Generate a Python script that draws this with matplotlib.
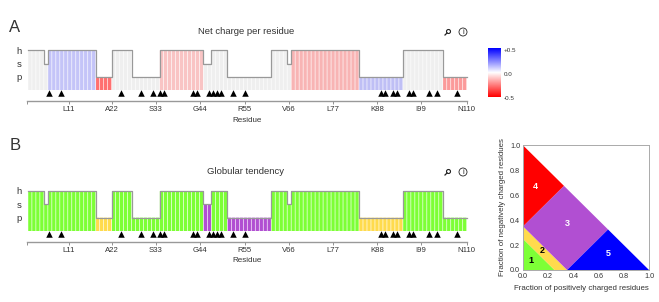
import matplotlib
matplotlib.use('Agg')
import matplotlib.pyplot as plt
import numpy as np
from matplotlib.colors import LinearSegmentedColormap
from matplotlib.patches import Circle, Polygon

plt.rcParams['font.family'] = ['Liberation Sans', 'DejaVu Sans']

W, H = 659, 302

# secondary structure per run: level 3=h, 2=s, 1=p
run_len = [4, 1, 12, 4, 5, 7, 11, 2, 4, 11, 4, 1, 17, 11, 10, 6]
run_lvl = [3, 2, 3, 1, 3, 1, 3, 2, 3, 1, 3, 2, 3, 1, 3, 1]
charge_cols = ['#efefef', '#efefef', '#c4c4f8', '#ff7070', '#efefef', '#efefef',
               '#f9c4c4', '#efefef', '#efefef', '#efefef', '#efefef', '#efefef',
               '#f8b4b4', '#bfbff5', '#efefef', '#fb9a9a']
glob_cols = ['#7dff36', '#7dff36', '#7dff36', '#ffdb4d', '#7dff36', '#7dff36',
             '#7dff36', '#b14fd2', '#7dff36', '#b14fd2', '#7dff36', '#7dff36',
             '#7dff36', '#ffdb4d', '#7dff36', '#7dff36']

tri_pos = [5.3, 8.3, 23.3, 28.3, 31.3, 33.2, 34.2, 41.3, 42.3, 45.3, 46.3, 47.3,
           48.3, 51.4, 54.4, 88.5, 89.5, 91.5, 92.5, 95.5, 96.5, 100.5, 102.5, 107.6]

tick_pos = [10.2, 21.1, 32.1, 43.2, 54.3, 65.4, 76.4, 87.5, 98.5, 110]
tick_lab = ['L11', 'A22', 'S33', 'G44', 'R55', 'V66', 'L77', 'K88', 'I99', 'N110']

region_1 = [(0, 0), (0.25, 0), (0, 0.25)]
region_2 = [(0, 0.25), (0.25, 0), (0.35, 0), (0, 0.35)]
region_3 = [(0, 0.35), (0.35, 0), (0.675, 0.325), (0.325, 0.675)]
region_4 = [(0, 0.35), (0.325, 0.675), (0, 1)]
region_5 = [(0.35, 0), (1, 0), (0.675, 0.325)]

TXT = '#333333'
GREY = '#999999'

fig = plt.figure(figsize=(W / 100, H / 100), dpi=100)


def px_axes(x0, y0, x1, y1):
    return fig.add_axes([x0 / W, 1 - y1 / H, (x1 - x0) / W, (y1 - y0) / H])


def ftext(x, y, s, **kw):
    kw.setdefault('color', TXT)
    kw.setdefault('ha', 'center')
    kw.setdefault('va', 'center')
    fig.text(x / W, 1 - y / H, s, **kw)


def track(top, bottom, cols, title, letter, letter_y, title_y, title_x):
    ax = px_axes(26.7, top, 466.7, bottom)
    levels = np.repeat(run_lvl, run_len)
    colors = np.repeat(cols, run_len)
    xs = np.arange(len(levels)) + 0.5
    bars = ax.bar(xs, levels, width=0.84, color=colors, linewidth=0)
    for b in bars:
        b.set_snap(False)
    ax.step(np.r_[0, np.cumsum(run_len)], np.r_[run_lvl, run_lvl[-1]], where='post',
            color=GREY, lw=0.9, clip_on=False)
    ax.scatter(tri_pos, [-0.225] * len(tri_pos), marker='^', s=22, color='black',
               linewidths=0, clip_on=False, zorder=5)
    ax.set_xlim(0, 110)
    ax.set_ylim(0, 3)
    for s in ['top', 'left', 'right']:
        ax.spines[s].set_visible(False)
    ax.spines['bottom'].set_position(('outward', 11 * 0.72))
    ax.spines['bottom'].set_color(GREY)
    ax.spines['bottom'].set_linewidth(1.0)
    ax.spines['bottom'].set_bounds(-0.3, 110)
    ax.set_xticks([-0.3] + tick_pos)
    ax.set_xticklabels([''] + tick_lab, fontsize=5.6, color=TXT)
    ax.tick_params(axis='x', length=2, width=0.5, color='#666666', pad=1.5)
    ax.set_yticks([3, 2, 1])
    ax.set_yticklabels(['h', 's', 'p'], fontsize=6.8, color=TXT)
    ax.tick_params(axis='y', length=0, pad=3.5)
    ax.set_xlabel('Residue', fontsize=5.8, color=TXT, labelpad=2.5)
    ftext(15, letter_y, letter, fontsize=12)
    ftext(title_x, title_y, title, fontsize=6.8)

    # zoom and info icons
    ov = fig.add_axes([0, 0, 1, 1], facecolor='none')
    ov.set_xlim(0, W)
    ov.set_ylim(H, 0)
    ov.axis('off')
    ov.add_patch(Circle((448.5, title_y - 0.5), 2.0, fill=False, ec='#222222', lw=0.8))
    ov.plot([447, 445], [title_y + 1, title_y + 3], color='#222222', lw=0.9)
    ov.add_patch(Circle((463, title_y), 4.0, fill=False, ec='#222222', lw=0.6))
    ov.text(463, title_y, 'i', fontsize=5.5, color='#222222', ha='center', va='center')


track(50.3, 90.3, charge_cols, 'Net charge per residue', 'A', 28, 32, 246)
track(191, 231, glob_cols, 'Globular tendency', 'B', 145, 172, 246)

# colour bar
cmap = LinearSegmentedColormap.from_list('chg', ['#ff0000', '#ffffff', '#0000ff'])
cax = px_axes(488, 48.3, 500.3, 96.7)
cax.imshow(np.linspace(1, 0, 200)[:, None], cmap=cmap, aspect='auto')
cax.axis('off')
ftext(504, 50.5, '+0.5', fontsize=4.5, ha='left')
ftext(504, 74.5, '0.0', fontsize=4.5, ha='left')
ftext(504, 99, '-0.5', fontsize=4.5, ha='left')

# charge fraction diagram
dax = px_axes(523, 145.3, 649, 270)
dax.add_patch(Polygon(region_1, fc='#7dff36', ec='none'))
dax.add_patch(Polygon(region_2, fc='#ffdb4d', ec='none'))
dax.add_patch(Polygon(region_3, fc='#b14fd2', ec='none'))
dax.add_patch(Polygon(region_4, fc='#ff0000', ec='none'))
dax.add_patch(Polygon(region_5, fc='#0000ff', ec='none'))
dax.text(0.06, 0.08, '1', fontsize=6.5, fontweight='bold', color='black', ha='center', va='center')
dax.text(0.15, 0.155, '2', fontsize=6.5, fontweight='bold', color='black', ha='center', va='center')
dax.text(0.35, 0.37, '3', fontsize=6.5, fontweight='bold', color='white', ha='center', va='center')
dax.text(0.10, 0.67, '4', fontsize=6.5, fontweight='bold', color='white', ha='center', va='center')
dax.text(0.68, 0.13, '5', fontsize=6.5, fontweight='bold', color='white', ha='center', va='center')
dax.set_xlim(0, 1)
dax.set_ylim(0, 1)
ticks = [0.0, 0.2, 0.4, 0.6, 0.8, 1.0]
dax.set_xticks(ticks)
dax.set_yticks(ticks)
dax.tick_params(length=0, labelsize=5.2, labelcolor=TXT, pad=2)
for s in dax.spines.values():
    s.set_color('#aaaaaa')
    s.set_linewidth(0.7)
ftext(581, 289, 'Fraction of positively charged residues', fontsize=5.7)
ftext(502, 207, 'Fraction of negatively charged residues', fontsize=5.7, rotation=90)

fig.savefig('out.png', dpi=100)
